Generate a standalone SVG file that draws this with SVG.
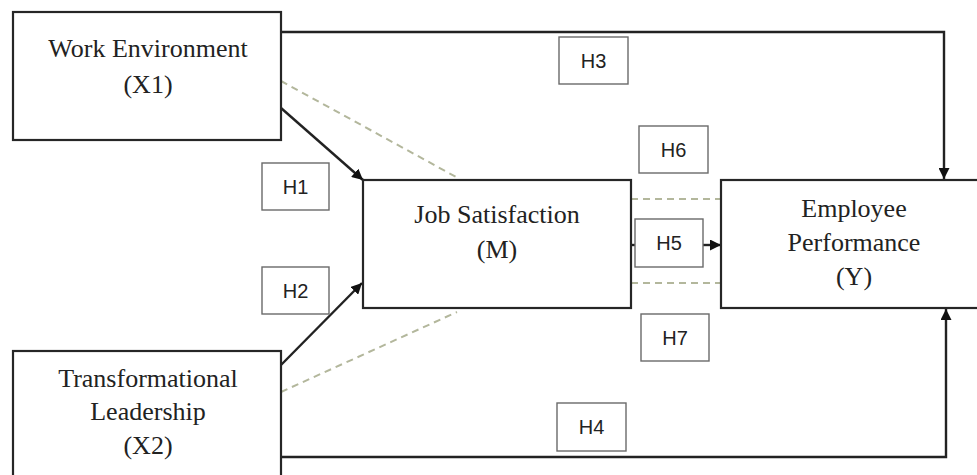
<svg xmlns="http://www.w3.org/2000/svg" width="977" height="475" viewBox="0 0 977 475">
<style>
.node{fill:#fff;stroke:#262626;stroke-width:2.2}
.hbox{fill:#fff;stroke:#6a6a6a;stroke-width:1.4}
.t{font-family:"Liberation Serif","Times New Roman",serif;font-size:26px;fill:#222;text-anchor:middle}
.h{font-family:"Liberation Sans",Arial,sans-serif;font-size:20px;fill:#222;text-anchor:middle}
.c{fill:none;stroke:#222;stroke-width:2.4}
.d{fill:none;stroke:#b3b79c;stroke-width:2;stroke-dasharray:7,5}
</style>
<defs>
<marker id="ah" viewBox="0 0 10 10" refX="10" refY="5" markerWidth="11" markerHeight="11" markerUnits="userSpaceOnUse" orient="auto">
<path d="M0,0 L10,5 L0,10 Z" fill="#111"/>
</marker>
</defs>
<rect width="977" height="475" fill="#fff"/>
<g id="connectors">
<path class="c" d="M281,32 H944 V179" marker-end="url(#ah)"/>
<path class="c" d="M281,457 H946 V309" marker-end="url(#ah)"/>
<path class="c" d="M281,108 L363,180" marker-end="url(#ah)"/>
<path class="c" d="M281,365 L362,283" marker-end="url(#ah)"/>
<path class="c" d="M631,245 H636"/>
<path class="c" d="M703,245 H721" marker-end="url(#ah)"/>
<path class="d" d="M281,81 L458,178"/>
<path class="d" d="M281,392 L457,312"/>
<path class="d" d="M631,199 H721"/>
<path class="d" d="M631,283 H721"/>
</g>
<g id="work-environment">
<rect class="node" x="13" y="12" width="268" height="128"/>
<text class="t" x="148" y="57">Work Environment</text>
<text class="t" x="148" y="93">(X1)</text>
</g>
<g id="transformational-leadership">
<rect class="node" x="13" y="351" width="268" height="140"/>
<text class="t" x="148" y="387">Transformational</text>
<text class="t" x="148" y="420">Leadership</text>
<text class="t" x="148" y="454">(X2)</text>
</g>
<g id="job-satisfaction">
<rect class="node" x="363" y="180" width="268" height="128"/>
<text class="t" x="497" y="223">Job Satisfaction</text>
<text class="t" x="497" y="258">(M)</text>
</g>
<g id="employee-performance">
<rect class="node" x="721" y="180" width="262" height="128"/>
<text class="t" x="854" y="217">Employee</text>
<text class="t" x="854" y="251">Performance</text>
<text class="t" x="854" y="285">(Y)</text>
</g>
<g id="h1"><rect class="hbox" x="262" y="163" width="67" height="47"/><text class="h" x="295.5" y="194">H1</text></g>
<g id="h2"><rect class="hbox" x="262" y="267" width="67" height="47"/><text class="h" x="295.5" y="298">H2</text></g>
<g id="h3"><rect class="hbox" x="559" y="37" width="69" height="47"/><text class="h" x="593.5" y="68">H3</text></g>
<g id="h4"><rect class="hbox" x="557" y="403" width="69" height="48"/><text class="h" x="591.5" y="434">H4</text></g>
<g id="h5"><rect class="hbox" x="635" y="219" width="68" height="48"/><text class="h" x="669" y="250">H5</text></g>
<g id="h6"><rect class="hbox" x="639" y="126" width="69" height="47"/><text class="h" x="673.5" y="157">H6</text></g>
<g id="h7"><rect class="hbox" x="641" y="314" width="68" height="47"/><text class="h" x="675" y="345">H7</text></g>
</svg>
